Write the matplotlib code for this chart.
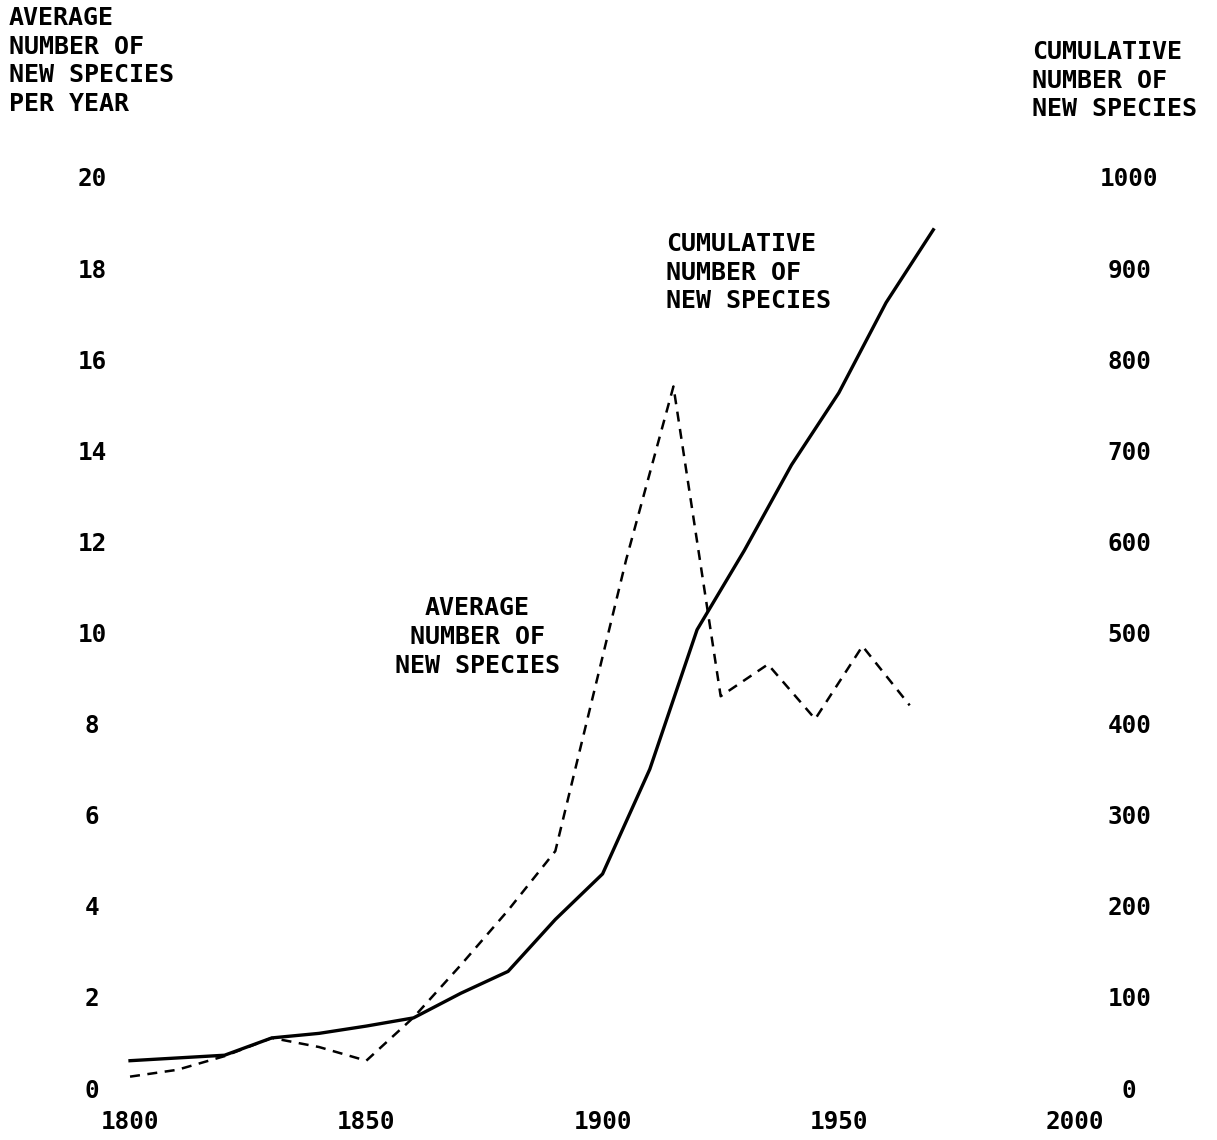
import matplotlib
matplotlib.use("Agg")
import matplotlib.pyplot as plt

# average number of new species per year (dashed, left axis)
avg_years = [1800, 1810, 1820, 1830, 1840, 1850, 1860, 1870, 1880, 1890,
             1905, 1915, 1925, 1935, 1945, 1955, 1965]
avg_values = [0.25, 0.4, 0.7, 1.1, 0.9, 0.6, 1.55, 2.7, 3.9, 5.2,
              11.6, 15.4, 8.6, 9.3, 8.1, 9.7, 8.4]

# cumulative number of new species (solid, right axis)
cum_years = [1800, 1810, 1820, 1830, 1840, 1850, 1860, 1870, 1880, 1890,
             1900, 1910, 1920, 1930, 1940, 1950, 1960, 1970]
cum_values = [30, 33, 36, 55, 60, 68, 77, 104, 128, 185,
              235, 350, 503, 590, 684, 763, 862, 942]

x_ticks = [1800, 1850, 1900, 1950, 2000]
left_ticks = list(range(0, 21, 2))
right_ticks = list(range(0, 1001, 100))

plt.rcParams['font.family'] = 'DejaVu Sans Mono'
plt.rcParams['font.weight'] = 'bold'
FS = 17.5
LS = 1.24

fig = plt.figure(figsize=(12.17, 11.4), dpi=100)
ax = fig.add_axes([0.0952, 0.0336, 0.8076, 0.8232])
ax2 = ax.twinx()

ax.plot(avg_years, avg_values, color='black', lw=1.8,
        linestyle=(0, (4, 3)), clip_on=False)
ax2.plot(cum_years, cum_values, color='black', lw=2.4, clip_on=False)

ax.set_xlim(1797, 2005)
ax.set_ylim(-0.3, 20.3)
ax2.set_ylim(-15, 1015)

ax.set_xticks(x_ticks)
ax.set_yticks(left_ticks)
ax2.set_yticks(right_ticks)

for a in (ax, ax2):
    for s in a.spines.values():
        s.set_visible(False)

ax.tick_params(axis='x', length=0, pad=6, labelsize=FS)
ax.tick_params(axis='y', length=0, pad=17, labelsize=FS)
ax2.tick_params(axis='y', length=0, pad=22, labelsize=FS)
plt.setp(ax.get_yticklabels(), ha='center')
plt.setp(ax2.get_yticklabels(), ha='center')

# axis titles
fig.text(9 / 1217, 1 - 6 / 1140, "AVERAGE\nNUMBER OF\nNEW SPECIES\nPER YEAR",
         ha='left', va='top', fontsize=18, linespacing=LS)
fig.text(1032 / 1217, 1 - 40 / 1140, "CUMULATIVE\nNUMBER OF\nNEW SPECIES",
         ha='left', va='top', fontsize=18, linespacing=LS)

# line labels
ax.text(1873.5, 9.9, "AVERAGE\nNUMBER OF\nNEW SPECIES", ha='center',
        va='center', fontsize=18, linespacing=LS)
ax.text(1913.4, 17.9, "CUMULATIVE\nNUMBER OF\nNEW SPECIES", ha='left',
        va='center', fontsize=18, linespacing=LS)

fig.savefig("out.png", dpi=100)
